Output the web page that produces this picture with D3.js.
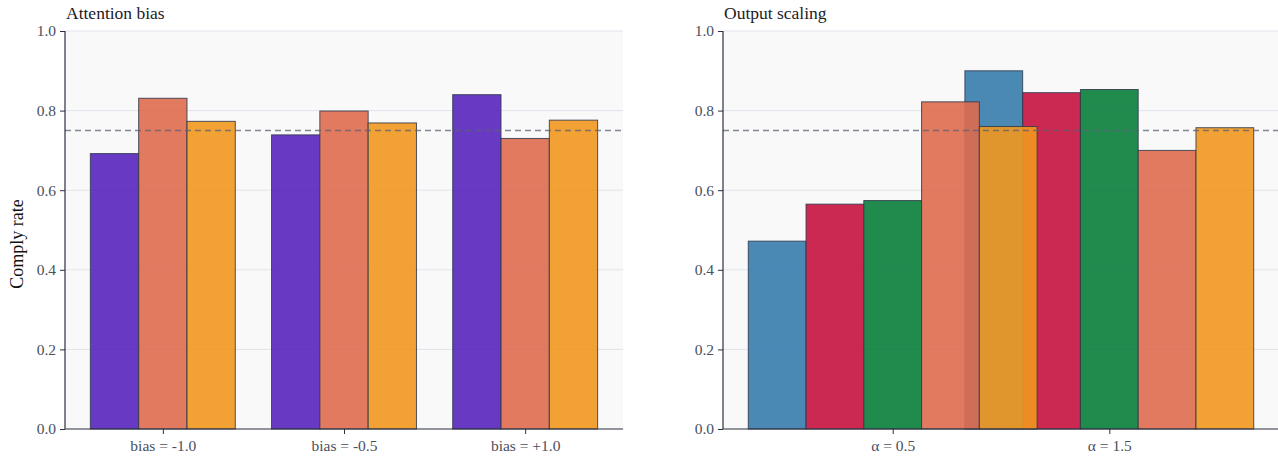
<!DOCTYPE html>
<html>
<head>
<meta charset="utf-8">
<script src="https://cdn.jsdelivr.net/npm/d3@7"></script>
<style>
  html, body { margin: 0; padding: 0; background: #ffffff; }
  svg { display: block; }
  text { font-family: "Liberation Serif", "Times New Roman", serif; }
</style>
</head>
<body>
<svg id="chart" width="1278" height="460"></svg>
<script>
// ---- data ----
const biasLabels = ["bias = -1.0", "bias = -0.5", "bias = +1.0"];
const biasPurple = [0.692, 0.739, 0.840];
const biasSalmon = [0.831, 0.799, 0.730];
const biasOrange = [0.773, 0.769, 0.776];

const scaleLabels = ["\u03b1 = 0.5", "\u03b1 = 1.5"];
const scaleBlue    = [0.472, 0.900];
const scaleCrimson = [0.565, 0.845];
const scaleGreen   = [0.574, 0.853];
const scaleSalmon  = [0.822, 0.700];
const scaleOrange  = [0.760, 0.757];

const yTicks = [0.0, 0.2, 0.4, 0.6, 0.8, 1.0];
const referenceRate = 0.75;

// ---- styling ----
const COLORS = {
  purple:  "#5825bd",
  salmon:  "#de6c4e",
  orange:  "#f1971e",
  blue:    "#377cad",
  crimson: "#c7123f",
  green:   "#097e3b"
};
const BAR_ALPHA = 0.9;
const BAR_WIDTH = 0.8 / 3;   // bar width in group units

const svg = d3.select("#chart");
const yTop = 31, yBottom = 429;

function drawPanel(opts) {
  const { left, right, title, labels, series, showYLabel } = opts;
  const n = series.length;
  const nGroups = labels.length;

  // x extent of all bars, padded 5% on each side
  const lo = -((n - 1) / 2) * BAR_WIDTH - BAR_WIDTH / 2;
  const hi = (nGroups - 1) + ((n - 1) / 2) * BAR_WIDTH + BAR_WIDTH / 2;
  const pad = (hi - lo) * 0.05;
  const x = d3.scaleLinear().domain([lo - pad, hi + pad]).range([left, right]);
  const y = d3.scaleLinear().domain([0, 1]).range([yBottom, yTop]);

  const g = svg.append("g");

  // plot background
  g.append("rect")
    .attr("x", left).attr("y", yTop)
    .attr("width", right - left).attr("height", yBottom - yTop)
    .attr("fill", "#f9f9fa");

  // horizontal grid
  g.append("g").selectAll("line")
    .data(yTicks.filter(t => t > 0))
    .join("line")
    .attr("x1", left).attr("x2", right)
    .attr("y1", d => y(d)).attr("y2", d => y(d))
    .attr("stroke", "#e1e4ea").attr("stroke-width", 1);

  // bars: one series at a time across all groups
  series.forEach((s, i) => {
    const offset = (i - (n - 1) / 2) * BAR_WIDTH;
    g.append("g").selectAll("rect")
      .data(s.values.map((v, gi) => ({ v, gi })))
      .join("rect")
      .attr("x", d => x(d.gi + offset - BAR_WIDTH / 2))
      .attr("width", d => x(d.gi + offset + BAR_WIDTH / 2) - x(d.gi + offset - BAR_WIDTH / 2))
      .attr("y", d => y(d.v))
      .attr("height", d => y(0) - y(d.v))
      .attr("fill", s.color)
      .attr("fill-opacity", BAR_ALPHA)
      .attr("stroke", "#2f3a4c")
      .attr("stroke-opacity", 0.85)
      .attr("stroke-width", 1);
  });

  // reference line
  g.append("line")
    .attr("x1", left).attr("x2", right)
    .attr("y1", y(referenceRate)).attr("y2", y(referenceRate))
    .attr("stroke", "#5b6070").attr("stroke-opacity", 0.75)
    .attr("stroke-width", 1.3)
    .attr("stroke-dasharray", "6,4");

  // y axis
  const yAxis = d3.axisLeft(y).tickValues(yTicks).tickFormat(d3.format(".1f"))
    .tickSize(5).tickPadding(4);
  const ya = g.append("g").attr("transform", `translate(${left},0)`).call(yAxis);
  ya.select(".domain").attr("stroke", "#2b2f3f").attr("stroke-width", 1.2)
    .attr("d", `M0,${yTop}V${yBottom}`);
  ya.selectAll(".tick line").attr("stroke", "#2b2f3f");
  ya.selectAll(".tick text")
    .attr("fill", "#4a5060")
    .style("font-family", "Liberation Serif")
    .style("font-size", "15.5px");

  // x axis
  const xAxis = d3.axisBottom(x).tickValues(d3.range(nGroups))
    .tickFormat(i => labels[i]).tickSize(5).tickPadding(6);
  const xa = g.append("g").attr("transform", `translate(0,${yBottom})`).call(xAxis);
  xa.select(".domain").attr("stroke", "#2b2f3f").attr("stroke-width", 1.2)
    .attr("d", `M${left},0H${right}`);
  xa.selectAll(".tick line").attr("stroke", "#2b2f3f");
  xa.selectAll(".tick text")
    .attr("fill", "#4a5060")
    .style("font-family", "Liberation Serif")
    .style("font-size", "15.5px");

  // title
  g.append("text")
    .attr("x", left + 1).attr("y", 19)
    .attr("fill", "#1b1b1f")
    .style("font-size", "17.5px")
    .text(title);

  if (showYLabel) {
    g.append("text")
      .attr("transform", `translate(23,244) rotate(-90)`)
      .attr("text-anchor", "middle")
      .attr("fill", "#111111")
      .style("font-size", "18px")
      .text("Comply rate");
  }
}

drawPanel({
  left: 65, right: 623,
  title: "Attention bias",
  labels: biasLabels,
  showYLabel: true,
  series: [
    { values: biasPurple, color: COLORS.purple },
    { values: biasSalmon, color: COLORS.salmon },
    { values: biasOrange, color: COLORS.orange }
  ]
});

drawPanel({
  left: 723, right: 1279,
  title: "Output scaling",
  labels: scaleLabels,
  showYLabel: false,
  series: [
    { values: scaleBlue,    color: COLORS.blue },
    { values: scaleCrimson, color: COLORS.crimson },
    { values: scaleGreen,   color: COLORS.green },
    { values: scaleSalmon,  color: COLORS.salmon },
    { values: scaleOrange,  color: COLORS.orange }
  ]
});
</script>
</body>
</html>
